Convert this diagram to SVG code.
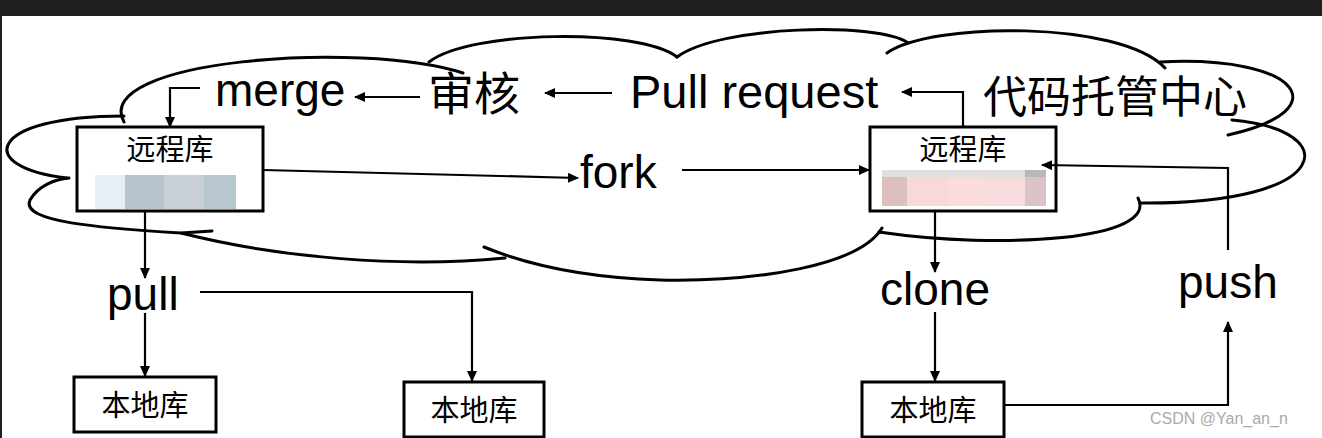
<svg xmlns="http://www.w3.org/2000/svg" width="1322" height="438" viewBox="0 0 1322 438">
<style>
.cl{fill:none;stroke:#000;stroke-width:3;stroke-linecap:round}
.bx{fill:#fff;stroke:#000;stroke-width:3}
.ln{fill:none;stroke:#000;stroke-width:2.2}
.en{font-family:"Liberation Sans","Open Sans",sans-serif;fill:#000}
.cj{font-family:"Noto Sans CJK SC",sans-serif;fill:#000}
.sf{font-family:"Liberation Serif","Noto Sans CJK SC",serif;fill:#000}
</style>
<defs>
<marker id="ar" markerWidth="11" markerHeight="10" refX="10" refY="5" orient="auto" markerUnits="userSpaceOnUse">
<path d="M0,0 L11,5 L0,10 z" fill="#000"/>
</marker>
</defs>
<rect width="1322" height="438" fill="#1f1f1f"/>
<rect x="2" y="16" width="1320" height="422" fill="#fff"/>
<g id="cloud">
<path class="cl" d="M67,178 C-25,168 -15,116 124,116"/>
<path class="cl" d="M124,122 C90,60 360,40 463,73"/>
<path class="cl" d="M429,62 C470,30 640,28 677,57"/>
<path class="cl" d="M677,57 C720,25 880,22 908,43"/>
<path class="cl" d="M887,53 C930,22 1120,20 1165,68"/>
<path class="cl" d="M1160,62 C1300,55 1340,110 1228,135"/>
<path class="cl" d="M1232,120 C1345,130 1335,205 1140,203"/>
<path class="cl" d="M1138,198 C1160,240 1000,250 879,232"/>
<path class="cl" d="M882,228 C860,265 760,282 660,280 C600,278 540,270 484,247"/>
<path class="cl" d="M505,258 C400,268 280,258 181,233 L212,231"/>
<path class="cl" d="M181,233 C100,228 20,222 30,200 C38,186 55,179 69,178"/>
<text class="cj" x="1115" y="113" font-size="44" text-anchor="middle">代码托管中心</text>
</g>
<g id="remote1">
<rect class="bx" x="77" y="127" width="186" height="84"/>
<rect x="95" y="175" width="30" height="34" fill="#e6eef6"/>
<rect x="125" y="175" width="39" height="34" fill="#b8c4ce"/>
<rect x="164" y="175" width="40" height="34" fill="#c8d0d6"/>
<rect x="204" y="175" width="32" height="34" fill="#b8c6d0"/>
<text class="sf" x="170" y="160" font-size="29" text-anchor="middle">远程库</text>
</g>
<g id="remote2">
<rect class="bx" x="870" y="127" width="186" height="84"/>
<rect x="882" y="170" width="164" height="7" fill="#e2dede"/>
<rect x="882" y="177" width="25" height="29" fill="#dcc0c0"/>
<rect x="907" y="177" width="40" height="29" fill="#f8d8d8"/>
<rect x="947" y="177" width="38" height="29" fill="#fadcdc"/>
<rect x="985" y="177" width="40" height="29" fill="#f6dcdc"/>
<rect x="1025" y="177" width="21" height="29" fill="#dcc4c6"/>
<rect x="1025" y="170" width="21" height="7" fill="#b8b8b8"/>
<text class="sf" x="963" y="160" font-size="29" text-anchor="middle">远程库</text>
</g>
<g id="local1"><rect class="bx" x="74" y="377" width="142" height="55"/><text class="sf" x="145" y="416" font-size="29" text-anchor="middle">本地库</text></g>
<g id="local2"><rect class="bx" x="404" y="382" width="140" height="55"/><text class="sf" x="474" y="421" font-size="29" text-anchor="middle">本地库</text></g>
<g id="local3"><rect class="bx" x="862" y="382" width="142" height="55"/><text class="sf" x="933" y="421" font-size="29" text-anchor="middle">本地库</text></g>
<g id="labels">
<text class="en" x="215" y="106" font-size="46">merge</text>
<text class="cj" x="428" y="110" font-size="46">审核</text>
<text class="en" x="630" y="108" font-size="47">Pull request</text>
<text class="en" x="580" y="188" font-size="46">fork</text>
<text class="en" x="107" y="310" font-size="46">pull</text>
<text class="en" x="880" y="305" font-size="46">clone</text>
<text class="en" x="1178" y="298" font-size="46">push</text>
<text x="1150" y="424" font-size="16" fill="#aaa" font-family="Liberation Sans,sans-serif">CSDN @Yan_an_n</text>
</g>
<g id="connectors">
<path class="ln" d="M420,97 L355,97" marker-end="url(#ar)"/>
<path class="ln" d="M612,93 L545,93" marker-end="url(#ar)"/>
<path class="ln" d="M963,127 L963,92 L902,92" marker-end="url(#ar)"/>
<path class="ln" d="M200,88 L170,88 L170,127" marker-end="url(#ar)"/>
<path class="ln" d="M263,170 L578,178" marker-end="url(#ar)"/>
<path class="ln" d="M682,170 L869,170" marker-end="url(#ar)"/>
<path class="ln" d="M1228,250 L1228,168 L1042,165" marker-end="url(#ar)"/>
<path class="ln" d="M935,211 L935,272" marker-end="url(#ar)"/>
<path class="ln" d="M935,312 L935,381" marker-end="url(#ar)"/>
<path class="ln" d="M145,211 L145,278" marker-end="url(#ar)"/>
<path class="ln" d="M145,313 L145,376" marker-end="url(#ar)"/>
<path class="ln" d="M200,292 L472,292 L472,381" marker-end="url(#ar)"/>
<path class="ln" d="M1004,405 L1228,405 L1228,322" marker-end="url(#ar)"/>
</g>
</svg>
